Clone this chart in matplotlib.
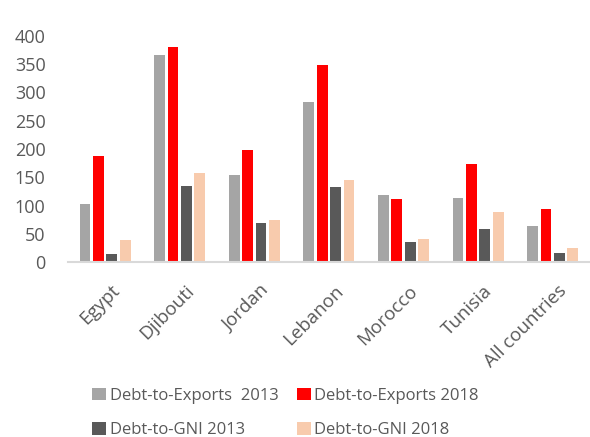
import numpy as np
import matplotlib.pyplot as plt
from matplotlib.transforms import ScaledTranslation

plt.rcParams['font.family'] = ['Open Sans', 'DejaVu Sans']

countries = ['Egypt', 'Djibouti', 'Jordan', 'Lebanon', 'Morocco', 'Tunisia', 'All countries']
exports_2013 = [102, 366, 154, 283, 118, 114, 64]
exports_2018 = [187, 380, 199, 349, 111, 173, 94]
gni_2013 = [15, 135, 69, 133, 36, 58, 16]
gni_2018 = [39, 157, 75, 145, 41, 89, 25]

series = [
    ('Debt-to-Exports  2013', exports_2013, '#a5a5a5'),
    ('Debt-to-Exports 2018', exports_2018, '#ff0000'),
    ('Debt-to-GNI 2013', gni_2013, '#595959'),
    ('Debt-to-GNI 2018', gni_2018, '#f8cbad'),
]

fig = plt.figure(figsize=(5.9, 4.37), dpi=100)
ax = fig.add_axes([0.115, 0.40, 0.885, 0.518])

x = np.arange(len(countries))
w = 0.145
step = 0.18
bars = []
for i, (name, vals, col) in enumerate(series):
    bars.append(ax.bar(x + (i - 1.5) * step, vals, w, color=col, label=name, zorder=2))

ax.set_xlim(-0.5, len(countries) - 0.5)
ax.set_ylim(0, 400)
ax.set_yticks(range(0, 401, 50))
ax.tick_params(axis='both', length=0, labelcolor='#595959')
ax.tick_params(axis='y', pad=16, labelsize=13)
ax.tick_params(axis='x', pad=14, labelsize=13.5)
ax.set_xticks(x)
ax.set_xticklabels(countries, rotation=45, ha='right', va='top', rotation_mode='anchor')
# nudge rotated labels a little to the right of the tick
shift = ScaledTranslation(0.05, 0, fig.dpi_scale_trans)
for lab in ax.get_xticklabels():
    lab.set_transform(lab.get_transform() + shift)

for s in ['top', 'right', 'left']:
    ax.spines[s].set_visible(False)
ax.spines['bottom'].set_color('#d9d9d9')
ax.spines['bottom'].set_linewidth(1.5)

# legend reads row by row: exports on top, GNI below
order = [0, 2, 1, 3]
fig.legend([bars[i] for i in order], [series[i][0] for i in order],
           loc='upper left', bbox_to_anchor=(0.156, 0.112), ncol=2, frameon=False,
           fontsize=12, labelcolor='#595959', handlelength=0.85, handleheight=0.75,
           handletextpad=0.2, columnspacing=1.1, labelspacing=1.1,
           borderpad=0, borderaxespad=0)

fig.savefig('out.png', dpi=100)
